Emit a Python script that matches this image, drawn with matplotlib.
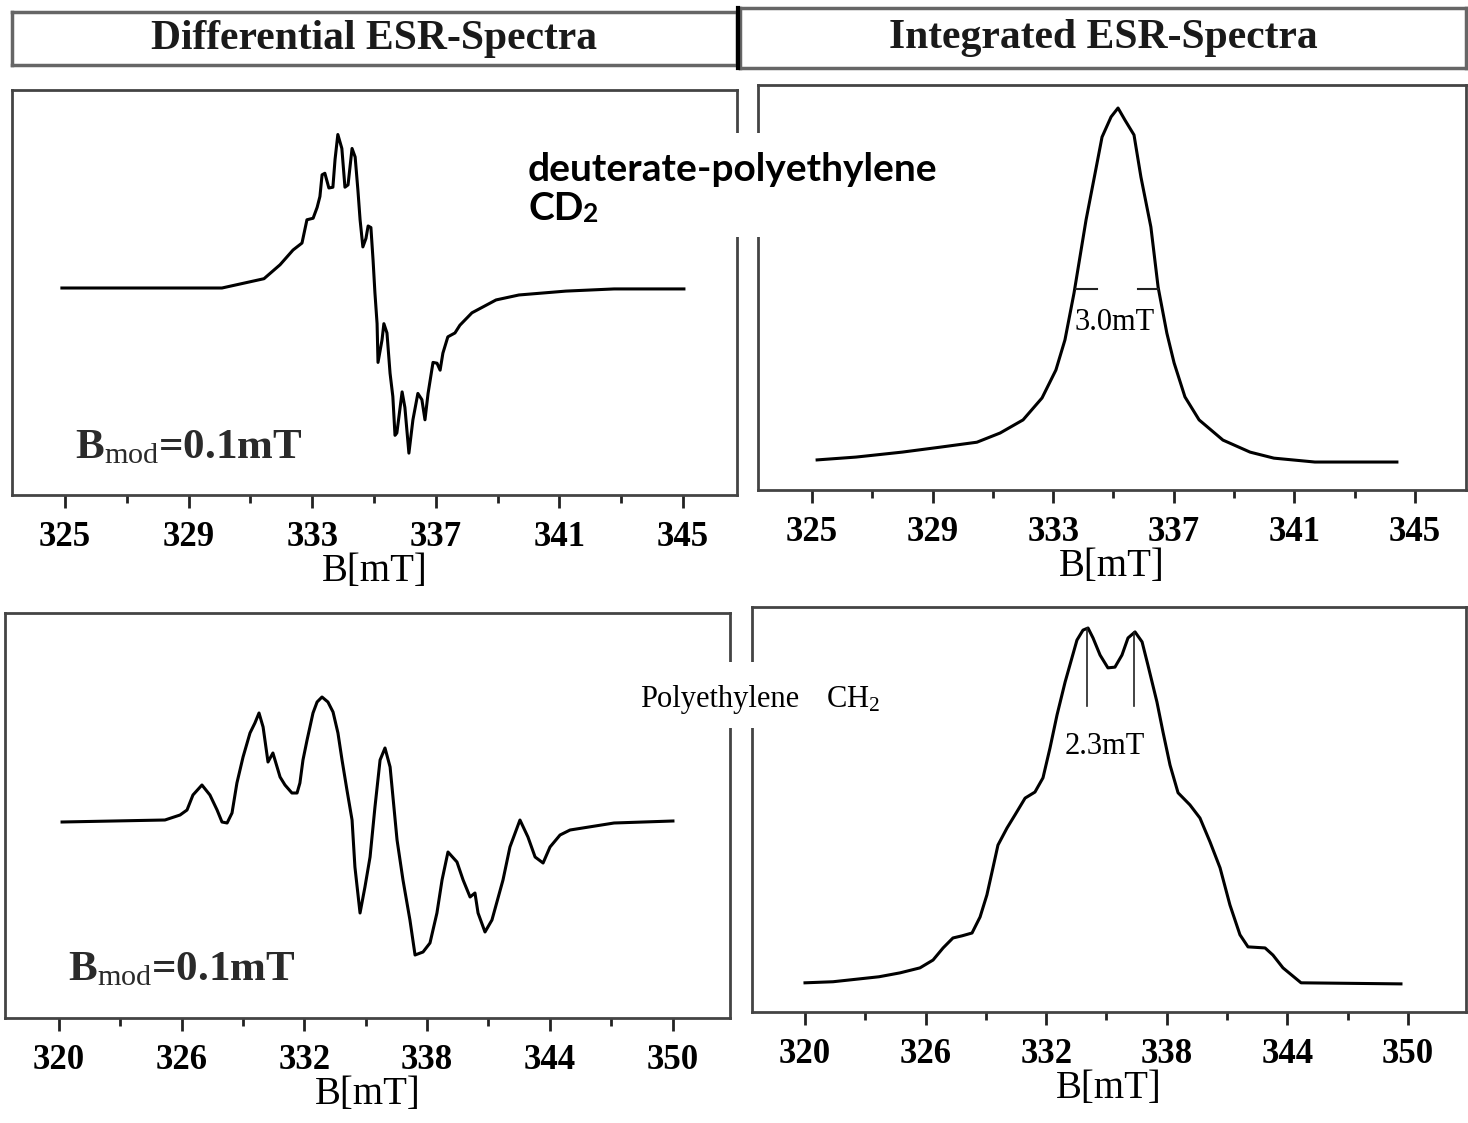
import matplotlib
matplotlib.use("Agg")
import matplotlib.pyplot as plt
from matplotlib.patches import Rectangle
from matplotlib.lines import Line2D

plt.rcParams['font.family'] = ['Liberation Serif', 'DejaVu Serif']
plt.rcParams['mathtext.fontset'] = 'custom'
plt.rcParams['mathtext.rm'] = 'Liberation Serif'
plt.rcParams['mathtext.it'] = 'Liberation Serif:italic'
plt.rcParams['mathtext.bf'] = 'Liberation Serif:bold'

W, H = 1468, 1123

# ---- data (B in mT, signal in arbitrary units) ----
# deuterated polyethylene CD2, differential spectrum
cd2_diff_B = [324.90, 330.08, 331.44, 331.96, 332.38, 332.67, 332.83, 333.03, 333.16, 333.25,
              333.32, 333.41, 333.54, 333.67, 333.74, 333.83, 333.96, 334.06, 334.16, 334.29,
              334.39, 334.48, 334.55, 334.64, 334.74, 334.81, 334.90, 334.97, 335.03, 335.10,
              335.13, 335.26, 335.32, 335.42, 335.52, 335.61, 335.68, 335.74, 335.91, 336.00,
              336.13, 336.26, 336.42, 336.55, 336.65, 336.75, 336.91, 337.04, 337.14, 337.23,
              337.39, 337.62, 337.78, 338.17, 338.95, 339.69, 341.21, 342.77, 345.03]
cd2_diff_S = [0.0, 0.0, 0.06, 0.15, 0.245, 0.29, 0.44, 0.45, 0.52, 0.59,
              0.73, 0.74, 0.645, 0.65, 0.83, 0.99, 0.90, 0.65, 0.665, 0.90,
              0.845, 0.63, 0.44, 0.265, 0.32, 0.40, 0.39, 0.18, -0.03, -0.23,
              -0.48, -0.335, -0.23, -0.29, -0.55, -0.70, -0.95, -0.935, -0.67, -0.77,
              -1.065, -0.85, -0.68, -0.72, -0.85, -0.68, -0.48, -0.485, -0.53, -0.42,
              -0.315, -0.29, -0.24, -0.16, -0.077, -0.045, -0.02, -0.006, -0.006]

# CD2, integrated spectrum
cd2_int_B = [325.17, 326.46, 327.99, 329.25, 330.47, 331.24, 332.00, 332.63, 333.09, 333.39,
             333.69, 334.09, 334.39, 334.62, 334.92, 335.15, 335.38, 335.68, 335.91, 336.24,
             336.48, 336.77, 337.01, 337.37, 337.84, 338.63, 339.53, 340.32, 341.68, 344.40]
cd2_int_S = [0.006, 0.014, 0.028, 0.042, 0.056, 0.082, 0.119, 0.181, 0.26, 0.345,
             0.477, 0.684, 0.816, 0.918, 0.975, 1.0, 0.966, 0.924, 0.805, 0.664,
             0.494, 0.364, 0.28, 0.184, 0.119, 0.062, 0.028, 0.011, 0.0, 0.0]

# polyethylene CH2, differential spectrum
ch2_diff_B = [320.15, 325.18, 325.92, 326.26, 326.55, 326.99, 327.38, 327.73, 327.97, 328.22,
              328.46, 328.70, 329.00, 329.34, 329.58, 329.78, 329.98, 330.22, 330.46, 330.81,
              331.05, 331.39, 331.64, 331.78, 331.93, 332.13, 332.27, 332.42, 332.62, 332.86,
              333.15, 333.40, 333.64, 333.84, 334.08, 334.33, 334.47, 334.72, 334.96, 335.21,
              335.45, 335.70, 335.94, 336.19, 336.53, 336.82, 337.16, 337.41, 337.80, 338.14,
              338.48, 338.73, 339.02, 339.46, 339.76, 340.10, 340.34, 340.49, 340.83, 341.17,
              341.71, 342.05, 342.54, 342.93, 343.28, 343.67, 344.01, 344.50, 344.99, 347.14,
              350.02]
ch2_diff_S = [0.0, 0.016, 0.056, 0.096, 0.216, 0.296, 0.216, 0.096, 0.0, -0.008,
              0.072, 0.312, 0.52, 0.712, 0.792, 0.872, 0.76, 0.48, 0.552, 0.36,
              0.296, 0.232, 0.232, 0.312, 0.496, 0.656, 0.76, 0.872, 0.96, 1.0,
              0.96, 0.88, 0.712, 0.496, 0.256, 0.016, -0.36, -0.728, -0.52, -0.28,
              0.12, 0.496, 0.592, 0.44, -0.144, -0.464, -0.784, -1.064, -1.04, -0.968,
              -0.728, -0.464, -0.24, -0.32, -0.464, -0.6, -0.568, -0.728, -0.88, -0.784,
              -0.464, -0.2, 0.016, -0.12, -0.28, -0.328, -0.2, -0.104, -0.064, -0.008,
              0.008]

# CH2, integrated spectrum
ch2_int_B = [320.00, 321.39, 323.68, 324.73, 325.72, 326.37, 326.87, 327.36, 327.81, 328.31,
             328.71, 329.05, 329.35, 329.60, 330.05, 330.45, 330.95, 331.44, 331.84, 332.19,
             332.54, 332.94, 333.28, 333.53, 333.83, 334.08, 334.33, 334.68, 335.07, 335.42,
             335.77, 336.07, 336.42, 336.77, 337.06, 337.51, 337.81, 338.16, 338.56, 339.15,
             339.65, 340.15, 340.65, 341.14, 341.64, 342.04, 342.89, 343.28, 343.78, 344.38,
             344.68, 349.65]
ch2_int_S = [0.003, 0.006, 0.02, 0.031, 0.045, 0.067, 0.101, 0.129, 0.135, 0.143,
             0.188, 0.25, 0.326, 0.39, 0.438, 0.475, 0.522, 0.539, 0.579, 0.663,
             0.756, 0.848, 0.916, 0.966, 0.994, 1.0, 0.972, 0.924, 0.888, 0.89,
             0.924, 0.972, 0.989, 0.961, 0.896, 0.792, 0.708, 0.615, 0.537, 0.503,
             0.466, 0.399, 0.326, 0.222, 0.138, 0.104, 0.101, 0.081, 0.045, 0.017,
             0.003, 0.0]

top_ticks = [325, 329, 333, 337, 341, 345]
top_minor = [327, 331, 335, 339, 343]
bot_ticks = [320, 326, 332, 338, 344, 350]
bot_minor = [323, 329, 335, 341, 347]

fwhm_level = 0.49
fwhm_dashes = [(333.76, 334.46), (335.82, 336.48)]
split_peaks = [334.03, 336.37]
split_tops = [1.0, 0.99]
split_bottom = 0.78


def box(x0, y0, x1, y1):
    # pixel box -> figure fraction rect
    return [x0 / W, 1 - y1 / H, (x1 - x0) / W, (y1 - y0) / H]


def fp(x, y):
    return x / W, 1 - y / H


def panel(rect, B, S, xlim, ylim, major, minor):
    ax = fig.add_axes(box(*rect))
    ax.plot(B, S, color='black', lw=2.2, solid_joinstyle='round')
    ax.set_xlim(xlim)
    ax.set_ylim(ylim)
    ax.set_xticks(major)
    ax.set_xticks(minor, minor=True)
    ax.set_yticks([])
    ax.tick_params(axis='x', which='both', direction='out', width=2, color='#222',
                   labelsize=25, pad=10)
    ax.tick_params(axis='x', which='major', length=9)
    ax.tick_params(axis='x', which='minor', length=6)
    for lab in ax.get_xticklabels():
        lab.set_fontweight('bold')
    ax.set_xlabel('B[mT]', fontsize=28, labelpad=-1)
    for sp in ax.spines.values():
        sp.set_color('#444')
        sp.set_linewidth(2)
    return ax


fig = plt.figure(figsize=(W / 100, H / 100), dpi=100)

ax_tl = panel((12, 90, 737, 495), cd2_diff_B, cd2_diff_S, (323.285, 346.748), (-1.335, 1.277),
              top_ticks, top_minor)
ax_tr = panel((758, 85, 1466, 490), cd2_int_B, cd2_int_S, (323.209, 346.692), (-0.079, 1.065),
              top_ticks, top_minor)
ax_bl = panel((5, 613, 730, 1018), ch2_diff_B, ch2_diff_S, (317.36, 352.81), (-1.568, 1.672),
              bot_ticks, bot_minor)
ax_br = panel((752, 607, 1466, 1012), ch2_int_B, ch2_int_S, (317.363, 352.886), (-0.079, 1.059),
              bot_ticks, bot_minor)

# line width markers
for a, b in fwhm_dashes:
    ax_tr.plot([a, b], [fwhm_level, fwhm_level], color='#222', lw=1.5)
ax_tr.text(335.05, 0.395, '3.0mT', ha='center', va='center', fontsize=22)
for xp, top in zip(split_peaks, split_tops):
    ax_br.plot([xp, xp], [top, split_bottom], color='#222', lw=1.2)
ax_br.text(334.93, 0.666, '2.3mT', ha='center', va='center', fontsize=22)

# modulation amplitude labels
for x, y in [(75, 458), (68, 980)]:
    fig.text(*fp(x, y), r'B$_{\mathrm{mod}}$=0.1mT', fontsize=31, color='#2a2a2a',
             fontweight='bold')

# header boxes
for rect, title in [((12, 12, 737, 65), 'Differential ESR-Spectra'),
                    ((740, 8, 1466, 68), 'Integrated ESR-Spectra')]:
    hx = fig.add_axes(box(*rect))
    hx.set_xticks([])
    hx.set_yticks([])
    for sp in hx.spines.values():
        sp.set_color('#666')
        sp.set_linewidth(2.5)
    hx.text(0.5, 0.5, title, ha='center', va='center', fontsize=30, fontweight='bold',
            color='#1a1a1a', transform=hx.transAxes)
fig.add_artist(Line2D([738 / W, 738 / W], [1 - 8 / H, 1 - 68 / H], color='black', lw=3,
                      transform=fig.transFigure))

# sample labels on white patches
fig.add_artist(Rectangle(fp(510, 237), 450 / W, 104 / H, transform=fig.transFigure,
                         facecolor='white', edgecolor='none', zorder=2))
fig.text(*fp(528, 181), 'deuterate-polyethylene', fontsize=28, fontweight='bold',
         family='Lato', zorder=3)
cd = fig.text(*fp(528, 220), 'CD', fontsize=28, fontweight='bold', family='Lato', zorder=3)
fig.add_artist(plt.Annotation('2', xy=(1.0, 0.0), xycoords=cd, fontsize=19, fontweight='bold',
                              family='Lato', va='bottom', zorder=3))

fig.add_artist(Rectangle(fp(628, 728), 292 / W, 66 / H, transform=fig.transFigure,
                         facecolor='white', edgecolor='none', zorder=2))
fig.text(*fp(640, 707), 'Polyethylene', fontsize=22, zorder=3)
fig.text(*fp(826, 707), r'CH$_2$', fontsize=22, zorder=3)

fig.savefig('out.png', dpi=100)
